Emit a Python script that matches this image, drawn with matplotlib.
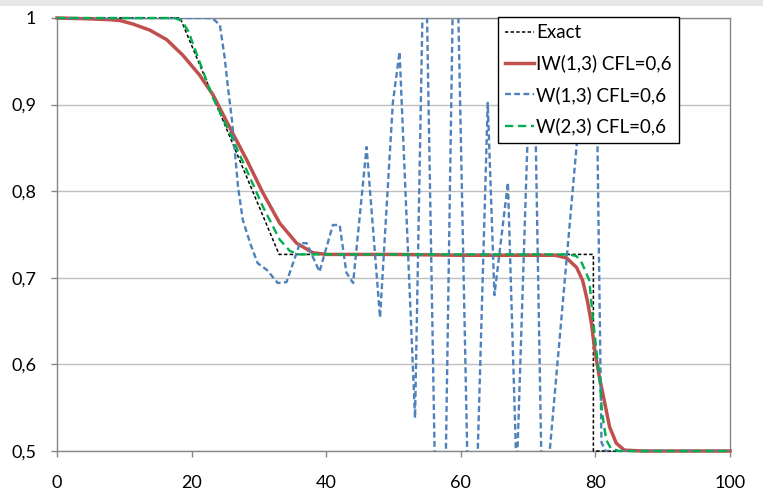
import numpy as np
import matplotlib.pyplot as plt
from matplotlib.patches import Rectangle
from matplotlib.ticker import FuncFormatter

# exact solution
x_exact = [0, 18.3, 33.0, 79.7, 79.7, 100]
y_exact = [1.0, 1.0, 0.727, 0.727, 0.5, 0.5]

# IW(1,3) CFL=0,6
x_iw = [0, 5, 8, 9.4, 11.3, 13.8, 16.3, 18.7, 21.2, 23.2, 25.7, 28.2, 30.6, 33.1,
        35.6, 38, 40, 50, 60, 70, 74, 75.7, 77.2, 78.1, 78.8, 79.4, 79.9, 80.6,
        81.4, 82.1, 83.1, 84.3, 87, 100]
y_iw = [1.0, 0.999, 0.998, 0.997, 0.993, 0.986, 0.975, 0.957, 0.934, 0.911, 0.873,
        0.836, 0.798, 0.763, 0.740, 0.729, 0.727, 0.727, 0.726, 0.726, 0.726, 0.723,
        0.712, 0.697, 0.674, 0.648, 0.617, 0.585, 0.555, 0.528, 0.509, 0.501, 0.5, 0.5]

# W(1,3) CFL=0,6
x_w13 = [0, 22.5, 23.2, 24.2, 24.9, 25.4, 26.0, 26.4, 26.9, 27.6, 28.7, 29.8, 31.2,
         32.8, 34.1, 36.1, 37.1, 39.0, 41.0, 42.0, 43.0, 44.0, 46.0, 48.0, 49.9, 50.9,
         53.2, 54.65, 57.0, 59.15, 61.6, 64.0, 65.0, 67.0, 68.3, 70.7, 72.4, 73.1,
         79.9, 80.9, 81.5, 100]
y_w13 = [1.0, 1.0, 0.999, 0.992, 0.955, 0.92, 0.882, 0.848, 0.805, 0.767, 0.74, 0.717,
         0.709, 0.694, 0.695, 0.74, 0.74, 0.707, 0.761, 0.761, 0.706, 0.694, 0.851,
         0.654, 0.902, 0.961, 0.538, 1.15, 0.1, 1.19, 0.25, 0.902, 0.68, 0.81, 0.47,
         1.05, 0.3, 0.49, 1.09, 0.51, 0.5, 0.5]

# W(2,3) CFL=0,6
x_w23 = [0, 17.5, 18.5, 19.5, 23.1, 25.7, 28.2, 30.6, 33.1, 34.6, 36, 40, 60, 76.1,
         77.2, 78.0, 79.1, 79.5, 80.1, 80.6, 81.0, 81.6, 82.3, 83.5, 100]
y_w23 = [1.0, 1.0, 0.997, 0.985, 0.909, 0.867, 0.824, 0.782, 0.744, 0.731, 0.727,
         0.727, 0.727, 0.727, 0.725, 0.717, 0.697, 0.663, 0.62, 0.585, 0.544, 0.513,
         0.503, 0.5, 0.5]

labels = ["Exact", "IW(1,3) CFL=0,6", "W(1,3) CFL=0,6", "W(2,3) CFL=0,6"]

plt.rcParams['font.family'] = ['Lato', 'DejaVu Sans']

fig = plt.figure(figsize=(7.63, 5.03), dpi=100)
ax = fig.add_axes([57/763, 1-451/503, (730-57)/763, (451-18)/503])

fig.patches.append(Rectangle((0, 1-6/503), 1, 6/503, transform=fig.transFigure,
                             facecolor='#e6e6e6', edgecolor='none'))

ax.plot(x_exact, y_exact, color='black', lw=1.1, ls=(0, (2.2, 1.5)), label=labels[0],
        clip_on=False, zorder=3)
ax.plot(x_iw, y_iw, color='#c0504d', lw=2.5, label=labels[1], clip_on=False, zorder=4)
ax.plot(x_w13, y_w13, color='#4f81bd', lw=1.7, ls=(0, (2.5, 1.4)), label=labels[2], zorder=5)
ax.plot(x_w23, y_w23, color='#00b050', lw=1.7, ls=(0, (3.5, 2)), label=labels[3],
        clip_on=False, zorder=6)

ax.set_xlim(0, 100)
ax.set_ylim(0.5, 1.0)
ax.set_xticks(np.arange(0, 101, 20))
ax.set_yticks([0.5, 0.6, 0.7, 0.8, 0.9, 1.0])
ax.yaxis.set_major_formatter(FuncFormatter(lambda v, p: ('%g' % round(v, 1)).replace('.', ',')))
ax.grid(axis='y', color='#bfbfbf', lw=1.0)
ax.set_axisbelow(True)
for s in ax.spines.values():
    s.set_color('#868686')
    s.set_linewidth(1.0)
ax.tick_params(axis='both', colors='#868686', labelcolor='black', labelsize=13,
               length=4, width=1)
ax.tick_params(axis='x', pad=13)
ax.tick_params(axis='y', pad=11)

leg = ax.legend(loc='upper left', bbox_to_anchor=(0.655, 1.003), fontsize=13.5,
                frameon=True, fancybox=False, framealpha=1, edgecolor='black',
                handlelength=1.55, handletextpad=0.1, labelspacing=0.72,
                borderpad=0.4, borderaxespad=0)
leg.get_frame().set_linewidth(1.0)
leg.set_zorder(10)

plt.savefig("out.png", dpi=100)
